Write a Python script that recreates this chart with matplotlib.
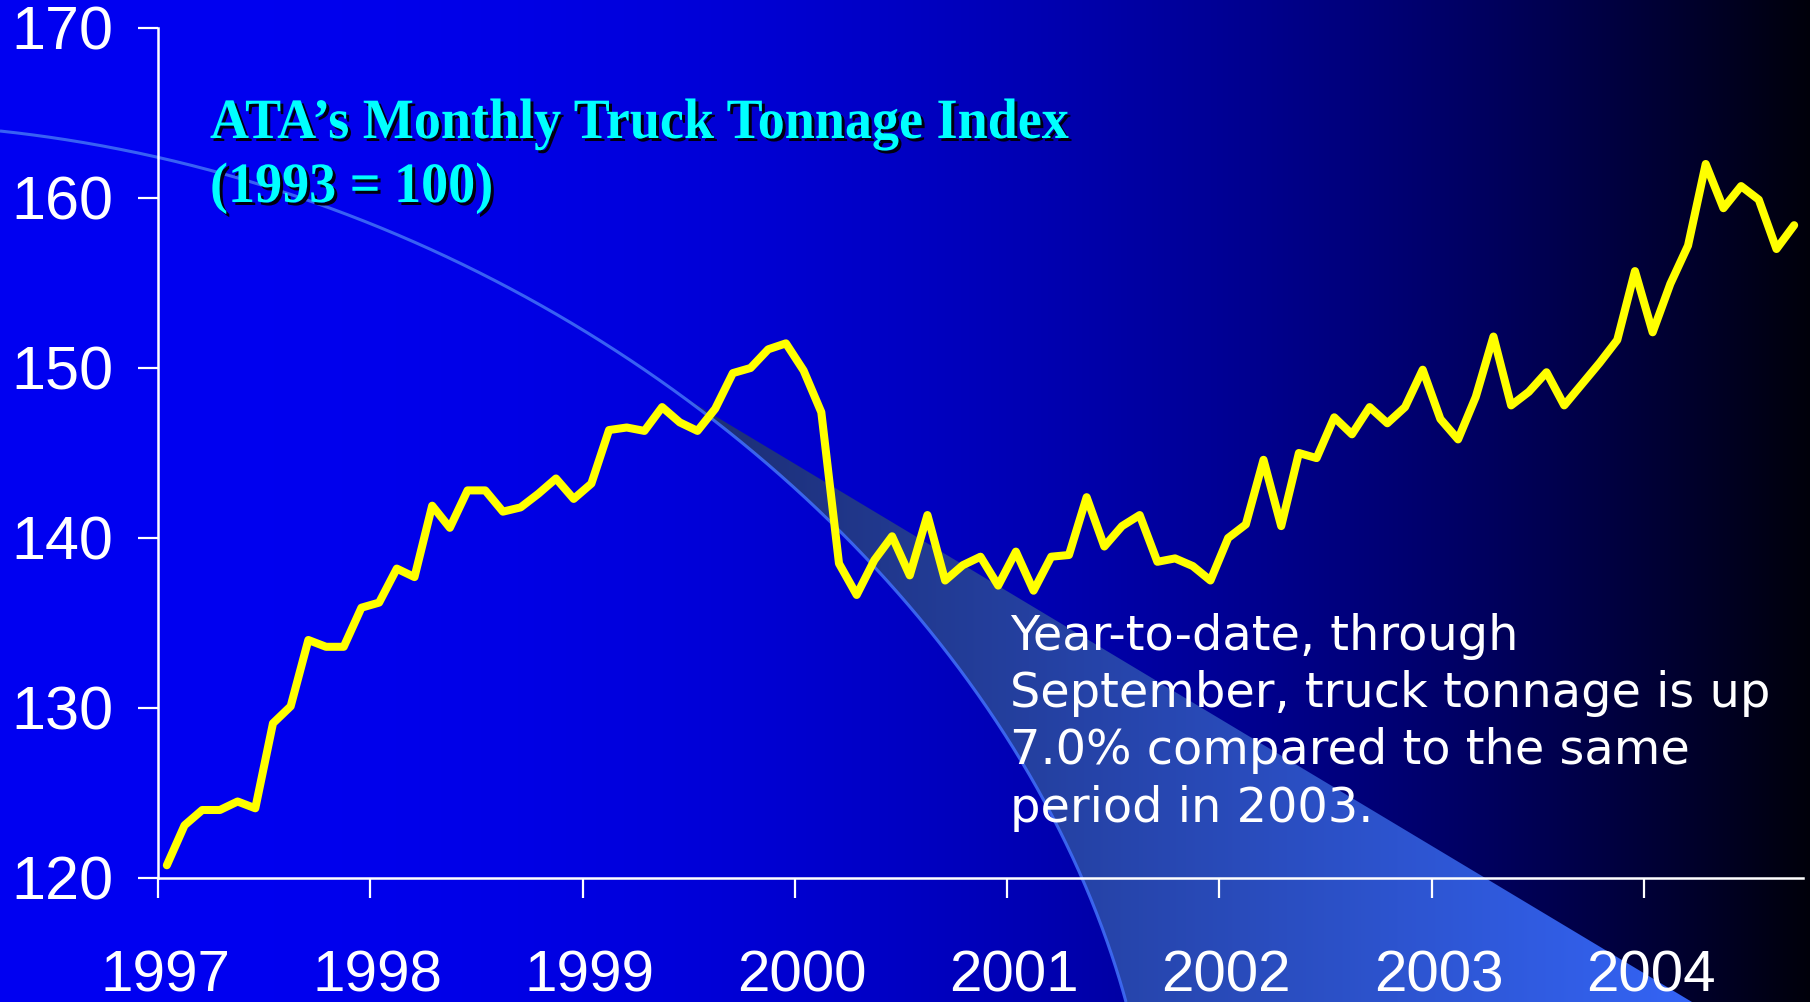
import numpy as np
import matplotlib
matplotlib.use('Agg')
import matplotlib.pyplot as plt
from matplotlib.textpath import TextPath
from matplotlib.patches import PathPatch, Polygon
from matplotlib.font_manager import FontProperties
from matplotlib.transforms import Affine2D, ScaledTranslation

# ---------------- data ----------------
start_year = 1997
tonnage_index = [
    120.75, 123.1, 124.0, 124.0, 124.5, 124.1, 129.1, 130.1, 134.0, 133.6, 133.6, 135.9,   # 1997
    136.2, 138.2, 137.7, 141.9, 140.6, 142.8, 142.8, 141.55, 141.8, 142.6, 143.5, 142.3,   # 1998
    143.2, 146.35, 146.5, 146.3, 147.7, 146.8, 146.3, 147.6, 149.7, 150.0, 151.1, 151.45,  # 1999
    149.85, 147.4, 138.5, 136.65, 138.7, 140.1, 137.8, 141.35, 137.5, 138.4, 138.9, 137.2, # 2000
    139.2, 136.9, 138.9, 139.0, 142.4, 139.5, 140.7, 141.35, 138.6, 138.8, 138.35, 137.5,  # 2001
    140.0, 140.8, 144.6, 140.7, 145.0, 144.7, 147.1, 146.1, 147.7, 146.75, 147.7, 149.9,   # 2002
    147.0, 145.8, 148.3, 151.85, 147.8, 148.6, 149.75, 147.8, 149.05, 150.3, 151.65, 155.7, # 2003
    152.1, 154.95, 157.2, 162.0, 159.4, 160.7, 159.9, 157.0, 158.4,                        # 2004 (Jan-Sep)
]
year_ticks = [1997, 1998, 1999, 2000, 2001, 2002, 2003, 2004]
year_labels = [str(y) for y in year_ticks]
value_ticks = [120, 130, 140, 150, 160, 170]
value_labels = [str(v) for v in value_ticks]
title_lines = ["ATA\u2019s Monthly Truck Tonnage Index", "(1993 = 100)"]
note_lines = ["Year-to-date, through",
              "September, truck tonnage is up",
              "7.0% compared to the same",
              "period in 2003."]

# ---------------- figure ----------------
W, H, DPI = 1810, 1002, 100
fig = plt.figure(figsize=(W / DPI, H / DPI), dpi=DPI)

# background axes in pixel coordinates (y downwards)
bg = fig.add_axes([0, 0, 1, 1], zorder=0)
bg.set_xlim(0, W)
bg.set_ylim(H, 0)
bg.axis('off')

xs = np.linspace(0, 1, W)
blue = 10 + 232 * (1 - xs ** 2.3)
grad = np.zeros((2, W, 3))
grad[..., 2] = blue / 255.0
bg.imshow(grad, extent=(0, W, H, 0), aspect='auto', interpolation='bilinear', zorder=0)

# decorative swoosh curve (cubic Bezier)
P = np.array([[0, 131], [550, 190], [1010, 578], [1126, 1002]], dtype=float)
t = np.linspace(0, 1, 800)[:, None]
curve = ((1 - t) ** 3) * P[0] + 3 * ((1 - t) ** 2) * t * P[1] + 3 * (1 - t) * t ** 2 * P[2] + t ** 3 * P[3]

# light beam wedge between straight edge and curve
lx0, ly0, lslope = 677.0, 393.0, 0.6
line_y = ly0 + lslope * (curve[:, 0] - lx0)
d = curve[:, 1] - line_y
neg = np.where(d <= 0)[0]
start = neg.max() + 1 if len(neg) else int(np.argmin(d))
x_bottom = lx0 + (H - ly0) / lslope
verts = np.vstack([curve[start:], [[x_bottom, H]]])
wedge = Polygon(verts, closed=True, facecolor='none', edgecolor='none', transform=bg.transData)
bg.add_patch(wedge)
gx = np.clip((np.arange(W) - lx0) / (x_bottom - lx0), 0, 1)
c0 = np.array([28, 45, 115]) / 255.0
c1 = np.array([52, 100, 245]) / 255.0
wimg = c0[None, :] + (c1 - c0)[None, :] * gx[:, None]
wimg = np.broadcast_to(wimg[None, :, :], (2, W, 3))
wim = bg.imshow(wimg, extent=(0, W, H, 0), aspect='auto', interpolation='bilinear', zorder=1)
wim.set_clip_path(wedge)
bg.plot(curve[:, 0], curve[:, 1], color='#3f6cf5', lw=2.2, alpha=0.9, zorder=2, solid_capstyle='butt')

# title (condensed bold serif with drop shadow)
fp_title = FontProperties(family='Liberation Serif', weight='bold')
def condensed(ax, x, y, s, size, sx, color):
    tp = TextPath((0, 0), s, size=size, prop=fp_title)
    for dx, dy, col in [(3, 3, '#000010'), (0, 0, color)]:
        tr = Affine2D().scale(sx, -1).translate(x + dx, y + dy) + ax.transData
        ax.add_patch(PathPatch(tp, transform=tr, facecolor=col, edgecolor='none', zorder=5))

tp0 = TextPath((0, 0), title_lines[0], size=57, prop=fp_title)
sx = 858.0 / tp0.get_extents().width
condensed(bg, 210, 138, title_lines[0], 57, sx, '#00FFFF')
condensed(bg, 210, 202, title_lines[1], 57, sx, '#00FFFF')

# annotation
for i, line in enumerate(note_lines):
    bg.text(1010, 650 + i * 57.2, line, color='white', fontsize=34.5,
            family='DejaVu Sans', va='baseline', ha='left', zorder=6)

# ---------------- main chart axes ----------------
ax = fig.add_axes([158 / W, 1 - 878 / H, (1803 - 158) / W, (878 - 28) / H], zorder=2)
ax.set_facecolor('none')
months = start_year + (np.arange(len(tonnage_index)) + 0.5) / 12.0
ax.plot(months, tonnage_index, color='#FFFF00', lw=5.8, solid_joinstyle='round',
        solid_capstyle='round', clip_on=False, zorder=3)

ax.set_xlim(1997, 2004.75)
ax.set_ylim(120, 170)
ax.set_xticks(year_ticks)
ax.set_xticklabels(year_labels)
ax.set_yticks(value_ticks)
ax.set_yticklabels(value_labels)

for side in ['top', 'right']:
    ax.spines[side].set_visible(False)
for side in ['left', 'bottom']:
    ax.spines[side].set_color('white')
    ax.spines[side].set_linewidth(1.8)

ax.tick_params(axis='x', direction='out', length=14.5, width=1.6, color='white',
               labelcolor='white', labelsize=42, pad=37)
ax.tick_params(axis='y', direction='out', length=14.5, width=1.6, color='white',
               labelcolor='white', labelsize=44, pad=17.5)
for lab in ax.get_xticklabels() + ax.get_yticklabels():
    lab.set_family('Liberation Sans')
off = ScaledTranslation(7 / DPI, 0, fig.dpi_scale_trans)
for lab in ax.get_xticklabels():
    lab.set_transform(lab.get_transform() + off)

fig.savefig('out.png', dpi=DPI)
